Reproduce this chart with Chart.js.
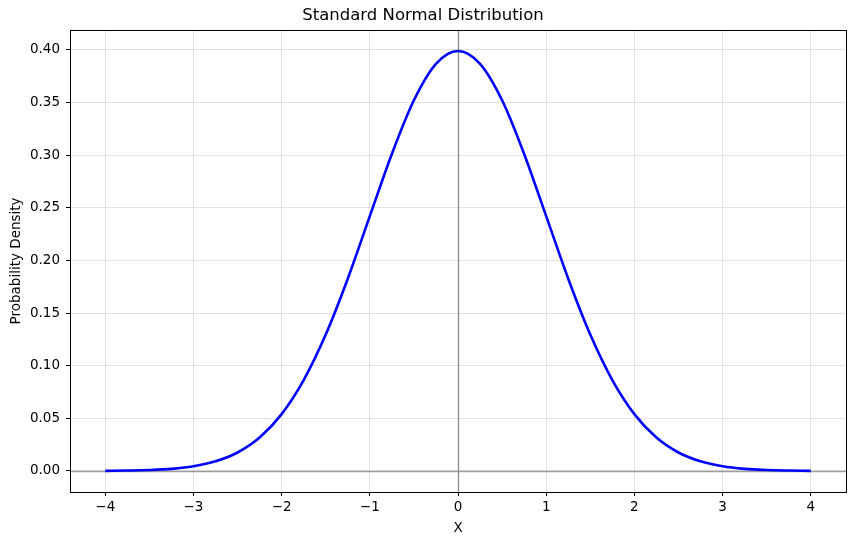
<!DOCTYPE html>
<html>
<head>
<meta charset="utf-8">
<script src="https://cdn.jsdelivr.net/npm/chart.js@4.4.1/dist/chart.umd.min.js"></script>
<style>
body{margin:0;background:#fff;}
#wrap{width:855px;height:545px;}
</style>
</head>
<body>
<div id="wrap"><canvas id="normalChart" width="855" height="545"></canvas></div>
<script>
/* ================= DATA ================= */

const xValues=[-4,-3.75,-3.5,-3.25,-3,-2.75,-2.5,-2.25,-2,-1.75,-1.5,-1.25,-1,-0.75,-0.5,-0.25,
0,0.25,0.5,0.75,1,1.25,1.5,1.75,2,2.25,2.5,2.75,3,3.25,3.5,3.75,4];

const densityValues=[0.0001,0.0004,0.0009,0.0020,0.0044,0.0091,0.0175,0.0317,0.0540,0.0863,0.1295,0.1826,0.2420,0.3011,0.3521,0.3867,
0.3989,0.3867,0.3521,0.3011,0.2420,0.1826,0.1295,0.0863,0.0540,0.0317,0.0175,0.0091,0.0044,0.0020,0.0009,0.0004,0.0001];

const xTicks=[-4,-3,-2,-1,0,1,2,3,4];
const yTicks=[0,0.05,0.1,0.15,0.2,0.25,0.3,0.35,0.4];

const FONT="'DejaVu Sans', sans-serif";

/* ================= PLUGINS ================= */

// gray reference lines at x=0 and y=0, plus the axes box
const refLines={
id:"refLines",
beforeDatasetsDraw(chart){
const {ctx,chartArea:a,scales:{x,y}}=chart;
ctx.save();
ctx.strokeStyle="rgba(0,0,0,0.38)";
ctx.lineWidth=1.4;
const px=Math.round(x.getPixelForValue(0))+0.5;
const py=Math.round(y.getPixelForValue(0))+0.5;
ctx.beginPath();
ctx.moveTo(px,a.top);ctx.lineTo(px,a.bottom);
ctx.moveTo(a.left,py);ctx.lineTo(a.right,py);
ctx.stroke();
ctx.restore();
},
afterDraw(chart){
const {ctx,chartArea:a}=chart;
ctx.save();
ctx.strokeStyle="#000";
ctx.lineWidth=1;
ctx.strokeRect(Math.round(a.left)+0.5,Math.round(a.top)+0.5,Math.round(a.right-a.left),Math.round(a.bottom-a.top));
ctx.restore();
}
};

/* ================= CHART ================= */

new Chart(document.getElementById("normalChart"),{
type:"line",
data:{
datasets:[{
label:"PDF",
data:xValues.map((v,i)=>({x:v,y:densityValues[i]})),
borderColor:"#0000ff",
borderWidth:2.6,
pointRadius:0,
cubicInterpolationMode:"monotone",
fill:false
}]
},
options:{
responsive:false,
animation:false,
layout:{padding:{top:2,right:9,left:0,bottom:0}},
plugins:{
legend:{display:false},
tooltip:{enabled:false},
title:{
display:true,
text:"Standard Normal Distribution",
color:"#000",
font:{family:FONT,size:16.5,weight:"normal"},
padding:{top:4,bottom:4}
}
},
scales:{
x:{
type:"linear",
min:-4.4,
max:4.4,
afterFit(s){s.height=53;},
afterBuildTicks(s){s.ticks=xTicks.map(v=>({value:v}));},
ticks:{
color:"#000",
font:{family:FONT,size:13.5},
padding:3,
maxRotation:0,
callback:v=>v<0?"\u2212"+Math.abs(v):String(v)
},
grid:{color:"rgba(176,176,176,0.35)",tickColor:"#000",tickLength:4,drawTicks:true},
border:{display:false},
title:{display:true,text:"X",color:"#000",font:{family:FONT,size:13.5},padding:{top:2,bottom:8}}
},
y:{
type:"linear",
min:-0.02,
max:0.419,
afterFit(s){s.width=70;},
afterBuildTicks(s){s.ticks=yTicks.map(v=>({value:v}));},
ticks:{
color:"#000",
font:{family:FONT,size:13.5},
padding:6,
callback:v=>v.toFixed(2)
},
grid:{color:"rgba(176,176,176,0.35)",tickColor:"#000",tickLength:4,drawTicks:true},
border:{display:false},
title:{display:true,text:"Probability Density",color:"#000",font:{family:FONT,size:13.5},padding:{top:8,bottom:4}}
}
}
},
plugins:[refLines]
});
</script>
</body>
</html>
